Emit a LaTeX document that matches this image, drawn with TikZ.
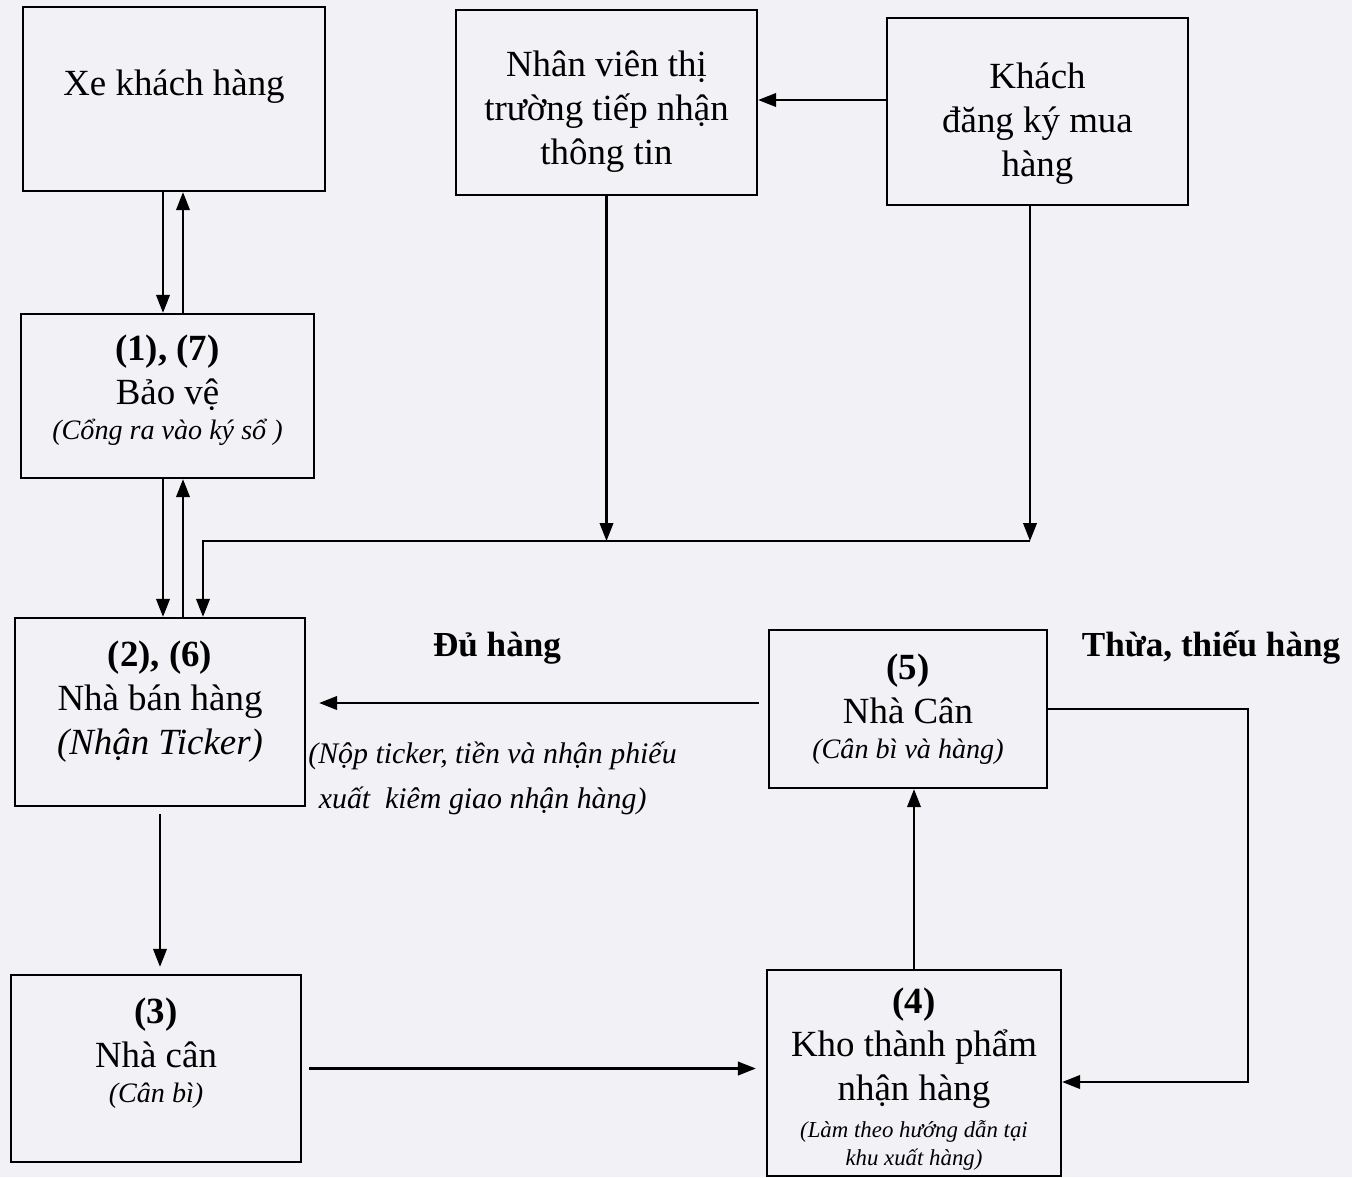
\documentclass[tikz,border=0pt]{standalone}
\usepackage{fontspec}
\setmainfont{Liberation Serif}
\usetikzlibrary{arrows.meta}
\definecolor{nen}{RGB}{242,242,246}
\tikzset{
  hop/.style={shape=rectangle,draw=black,line width=1.3pt,align=center,inner sep=2pt,font=\fontsize{21}{25}\selectfont},
  muiten/.style={-{Triangle[length=0.36cm,width=0.27cm]},line width=1.3pt},
  nhan/.style={font=\fontsize{20}{24}\selectfont\bfseries},
}
\newcommand{\chunho}{\fontsize{16}{19}\selectfont\itshape}
\newcommand{\chutinhi}{\fontsize{13}{15.5}\selectfont\itshape}
% cot vo hinh de day chu len / xuong trong hop
\newcommand{\caotren}[1]{\rule{0pt}{#1}}
\newcommand{\sauduoi}[1]{\rule[-#1]{0pt}{#1}}
\begin{document}
\begin{tikzpicture}[x=0.02cm,y=-0.02cm]
    \fill[nen] (0,0) rectangle (1352,1177);
    \useasboundingbox (0,0) rectangle (1352,1177);

    \node[hop,minimum width=6.04cm,minimum height=3.68cm] (xe) at (174,99) {Xe khách hàng\sauduoi{19pt}};
    \node[hop,minimum width=6.02cm,minimum height=3.7cm] (nv) at (606.5,102.5) {\caotren{25pt}Nhân viên thị\\ trường tiếp nhận\\ thông tin};
    \node[hop,minimum width=6.02cm,minimum height=3.74cm] (kh) at (1037.5,111.5) {\caotren{28pt}Khách\\ đăng ký mua\\ hàng};
    \node[hop,minimum width=5.86cm,minimum height=3.28cm] (bv) at (167.5,396) {{\bfseries (1), (7)}\\ Bảo vệ\\[-5pt] {\chunho (Cổng ra vào ký sổ )\sauduoi{10pt}}};
    \node[hop,minimum width=5.8cm,minimum height=3.76cm] (nb) at (160,712) {{\bfseries (2), (6)}\\ Nhà bán hàng\\ {\itshape (Nhận Ticker)\sauduoi{16pt}}};
    \node[hop,minimum width=5.56cm,minimum height=3.16cm] (nc5) at (908,709) {{\bfseries (5)}\\ Nhà Cân\\[-5pt] {\chunho (Cân bì và hàng)}};
    \node[hop,minimum width=5.8cm,minimum height=3.74cm] (nc3) at (156,1068.5) {{\bfseries (3)}\\ Nhà cân\\[-5pt] {\chunho (Cân bì)\sauduoi{20.5pt}}};
    \node[hop,minimum width=5.88cm,minimum height=4.12cm] (kho) at (914,1073) {\caotren{21pt}{\bfseries (4)}\\ Kho thành phẩm\\ nhận hàng\\[-4pt] {\chutinhi (Làm theo hướng dẫn tại}\\[-9.5pt] {\chutinhi khu xuất hàng)}};

    \coordinate (xtrai) at (163,0);
    \coordinate (xphai) at (183,0);
    \coordinate (xre) at (203,0);
    \coordinate (j) at (1030,541);
    \coordinate (yngang) at (0,100);
    \coordinate (ydu) at (0,703);
    \coordinate (r1) at (1248,1082);

    \draw[muiten] (xe.south -| xtrai) -- (bv.north -| xtrai);
    \draw[muiten] (bv.north -| xphai) -- (xe.south -| xphai);
    \draw[muiten] (bv.south -| xtrai) -- (nb.north -| xtrai);
    \draw[muiten] (nb.north -| xphai) -- (bv.south -| xphai);
    \draw[muiten] (kh.west |- yngang) -- (nv.east |- yngang);
    \draw[muiten] (nv.south) -- (nv.south |- j);
    \draw[muiten] (kh.south -| j) -- (j);
    \draw[muiten] (j) -| (nb.north -| xre);
    \draw[muiten,shorten <=0.18cm,shorten >=0.26cm] (nc5.west |- ydu) -- (nb.east |- ydu);
    \draw[muiten] (nc5.east) -| (r1) -- (kho.east |- r1);
    \draw[muiten] (kho.north) -- (kho.north |- nc5.south);
    \draw[muiten,shorten <=0.14cm,shorten >=0.14cm] (nb.south) -- (nb.south |- nc3.north);
    \draw[muiten,shorten <=0.14cm,shorten >=0.2cm] (nc3.east) -- (kho.west |- nc3.east);

    \node[nhan] (du) at (497,648) {Đủ hàng};
    \node[nhan] (thua) at (1211,648) {Thừa, thiếu hàng};
    \node[font=\fontsize{17}{25.6}\selectfont\itshape,align=left,anchor=west,inner sep=0pt] (ghichu) at (308,778) {(Nộp ticker, tiền và nhận phiếu\\ \hspace*{0.35em}xuất\ \ kiêm giao nhận hàng)};
\end{tikzpicture}
\end{document}
